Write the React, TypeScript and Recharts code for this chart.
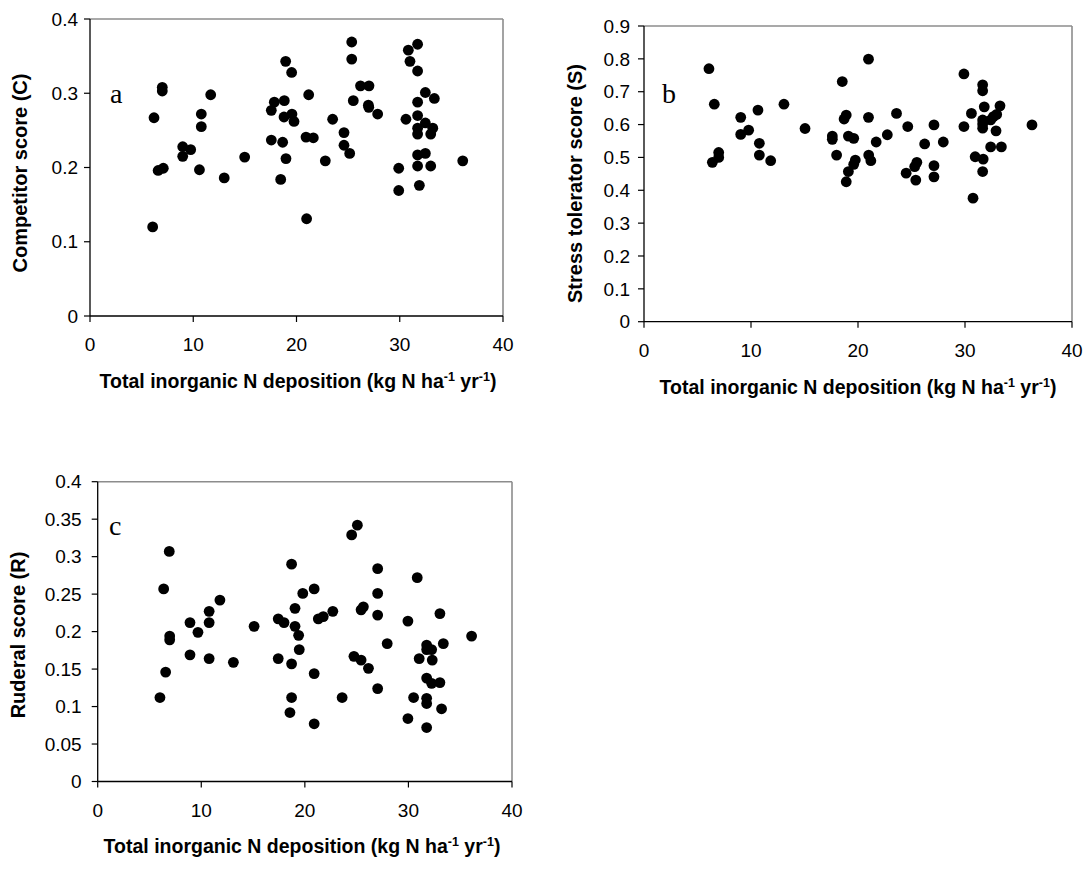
import React from 'react';
import { ScatterChart, Scatter, XAxis, YAxis, ReferenceLine, Customized } from 'recharts';

// ---------- data ----------
const xTicks = [0, 10, 20, 30, 40];
const competitorTicks = [0, 0.1, 0.2, 0.3, 0.4];
const stressTicks = [0, 0.1, 0.2, 0.3, 0.4, 0.5, 0.6, 0.7, 0.8, 0.9];
const ruderalTicks = [0, 0.05, 0.1, 0.15, 0.2, 0.25, 0.3, 0.35, 0.4];

const competitorPoints = [
  { x: 6.2, y: 0.267 }, { x: 6.07, y: 0.12 }, { x: 7.0, y: 0.308 }, { x: 7.0, y: 0.303 },
  { x: 6.6, y: 0.196 }, { x: 7.1, y: 0.199 }, { x: 8.98, y: 0.228 }, { x: 8.98, y: 0.215 },
  { x: 9.75, y: 0.224 }, { x: 10.78, y: 0.272 }, { x: 10.78, y: 0.255 }, { x: 10.6, y: 0.197 },
  { x: 11.69, y: 0.298 }, { x: 13.0, y: 0.186 }, { x: 14.98, y: 0.214 }, { x: 17.56, y: 0.277 },
  { x: 17.85, y: 0.288 }, { x: 17.56, y: 0.237 }, { x: 18.66, y: 0.234 }, { x: 18.98, y: 0.212 },
  { x: 18.47, y: 0.184 }, { x: 18.95, y: 0.343 }, { x: 19.53, y: 0.328 }, { x: 18.82, y: 0.29 },
  { x: 18.79, y: 0.268 }, { x: 19.56, y: 0.272 }, { x: 19.76, y: 0.262 }, { x: 21.18, y: 0.298 },
  { x: 20.98, y: 0.131 }, { x: 20.92, y: 0.241 }, { x: 21.63, y: 0.24 }, { x: 23.5, y: 0.265 },
  { x: 22.79, y: 0.209 }, { x: 24.6, y: 0.247 }, { x: 24.6, y: 0.23 }, { x: 25.15, y: 0.219 },
  { x: 25.35, y: 0.369 }, { x: 25.35, y: 0.346 }, { x: 25.5, y: 0.29 }, { x: 26.2, y: 0.31 },
  { x: 27.02, y: 0.31 }, { x: 26.96, y: 0.284 }, { x: 27.0, y: 0.281 }, { x: 27.86, y: 0.272 },
  { x: 29.9, y: 0.199 }, { x: 29.9, y: 0.169 }, { x: 30.6, y: 0.265 }, { x: 30.83, y: 0.358 },
  { x: 30.99, y: 0.343 }, { x: 31.73, y: 0.366 }, { x: 31.73, y: 0.33 }, { x: 31.73, y: 0.288 },
  { x: 31.73, y: 0.27 }, { x: 31.73, y: 0.253 }, { x: 31.73, y: 0.245 }, { x: 31.73, y: 0.217 },
  { x: 31.73, y: 0.202 }, { x: 31.9, y: 0.176 }, { x: 32.48, y: 0.301 }, { x: 32.48, y: 0.26 },
  { x: 32.48, y: 0.219 }, { x: 33.0, y: 0.245 }, { x: 33.2, y: 0.253 }, { x: 33.0, y: 0.202 },
  { x: 33.35, y: 0.293 }, { x: 36.1, y: 0.209 },
];

const stressPoints = [
  { x: 6.07, y: 0.77 }, { x: 6.57, y: 0.662 }, { x: 6.39, y: 0.485 }, { x: 6.98, y: 0.5 },
  { x: 6.98, y: 0.515 }, { x: 9.04, y: 0.622 }, { x: 9.04, y: 0.57 }, { x: 9.78, y: 0.583 },
  { x: 10.65, y: 0.644 }, { x: 10.78, y: 0.543 }, { x: 10.78, y: 0.507 }, { x: 11.84, y: 0.49 },
  { x: 13.08, y: 0.662 }, { x: 15.05, y: 0.588 }, { x: 17.6, y: 0.565 }, { x: 17.6, y: 0.555 },
  { x: 18.0, y: 0.507 }, { x: 18.53, y: 0.731 }, { x: 18.9, y: 0.629 }, { x: 18.7, y: 0.617 },
  { x: 19.1, y: 0.565 }, { x: 19.6, y: 0.558 }, { x: 19.75, y: 0.492 }, { x: 19.6, y: 0.479 },
  { x: 19.1, y: 0.457 }, { x: 18.9, y: 0.426 }, { x: 20.98, y: 0.799 }, { x: 20.98, y: 0.622 },
  { x: 21.0, y: 0.507 }, { x: 21.2, y: 0.49 }, { x: 21.7, y: 0.547 }, { x: 22.74, y: 0.569 },
  { x: 23.6, y: 0.634 }, { x: 24.65, y: 0.594 }, { x: 24.5, y: 0.452 }, { x: 25.5, y: 0.485 },
  { x: 25.3, y: 0.472 }, { x: 25.4, y: 0.431 }, { x: 26.23, y: 0.541 }, { x: 27.1, y: 0.599 },
  { x: 27.1, y: 0.475 }, { x: 27.1, y: 0.441 }, { x: 27.97, y: 0.547 }, { x: 29.9, y: 0.754 },
  { x: 29.9, y: 0.594 }, { x: 30.6, y: 0.634 }, { x: 30.75, y: 0.376 }, { x: 30.95, y: 0.502 },
  { x: 31.65, y: 0.721 }, { x: 31.65, y: 0.703 }, { x: 31.8, y: 0.654 }, { x: 31.65, y: 0.614 },
  { x: 31.65, y: 0.602 }, { x: 31.65, y: 0.589 }, { x: 31.7, y: 0.495 }, { x: 31.65, y: 0.457 },
  { x: 32.4, y: 0.614 }, { x: 32.65, y: 0.624 }, { x: 32.96, y: 0.631 }, { x: 33.27, y: 0.657 },
  { x: 32.4, y: 0.532 }, { x: 32.9, y: 0.581 }, { x: 33.4, y: 0.532 }, { x: 36.26, y: 0.599 },
];

const ruderalPoints = [
  { x: 6.01, y: 0.112 }, { x: 6.37, y: 0.257 }, { x: 6.56, y: 0.146 }, { x: 6.91, y: 0.307 },
  { x: 6.95, y: 0.194 }, { x: 6.95, y: 0.189 }, { x: 8.91, y: 0.212 }, { x: 8.91, y: 0.169 },
  { x: 9.68, y: 0.199 }, { x: 10.76, y: 0.227 }, { x: 10.76, y: 0.212 }, { x: 10.76, y: 0.164 },
  { x: 11.8, y: 0.242 }, { x: 13.1, y: 0.159 }, { x: 15.1, y: 0.207 }, { x: 17.43, y: 0.217 },
  { x: 17.99, y: 0.212 }, { x: 17.43, y: 0.164 }, { x: 18.72, y: 0.29 }, { x: 19.05, y: 0.231 },
  { x: 19.05, y: 0.207 }, { x: 19.4, y: 0.195 }, { x: 19.46, y: 0.176 }, { x: 18.72, y: 0.157 },
  { x: 18.72, y: 0.112 }, { x: 18.56, y: 0.092 }, { x: 19.8, y: 0.251 }, { x: 20.9, y: 0.257 },
  { x: 20.9, y: 0.144 }, { x: 20.9, y: 0.077 }, { x: 21.3, y: 0.217 }, { x: 21.78, y: 0.22 },
  { x: 22.7, y: 0.227 }, { x: 23.6, y: 0.112 }, { x: 24.52, y: 0.329 }, { x: 25.07, y: 0.342 },
  { x: 24.74, y: 0.167 }, { x: 25.43, y: 0.162 }, { x: 26.14, y: 0.151 }, { x: 25.43, y: 0.229 },
  { x: 25.65, y: 0.233 }, { x: 27.03, y: 0.284 }, { x: 27.03, y: 0.251 }, { x: 27.03, y: 0.222 },
  { x: 27.03, y: 0.124 }, { x: 27.95, y: 0.184 }, { x: 29.95, y: 0.214 }, { x: 30.5, y: 0.112 },
  { x: 29.95, y: 0.084 }, { x: 30.85, y: 0.272 }, { x: 31.04, y: 0.164 }, { x: 31.76, y: 0.182 },
  { x: 31.76, y: 0.176 }, { x: 32.24, y: 0.176 }, { x: 32.3, y: 0.162 }, { x: 31.76, y: 0.138 },
  { x: 32.24, y: 0.131 }, { x: 33.04, y: 0.132 }, { x: 31.76, y: 0.111 }, { x: 31.76, y: 0.104 },
  { x: 31.76, y: 0.072 }, { x: 33.04, y: 0.224 }, { x: 33.37, y: 0.184 }, { x: 33.2, y: 0.097 },
  { x: 36.1, y: 0.194 },
];

// ---------- styling ----------
const SANS = "'Liberation Sans', Arial, sans-serif";
const SERIF = "'Liberation Serif', 'Times New Roman', serif";
const TICK_FONT = 19;
const TITLE_FONT = 19.5;
const BORDER = '#8c8c8c';

const Dot = (p: any) => <circle cx={p.cx} cy={p.cy} r={5.4} fill="#000" />;

const XTitle = ({ cx, by }: { cx: number; by: number }) => (
  <text x={cx} y={by} textAnchor="middle" fontFamily={SANS} fontWeight="bold" fontSize={TITLE_FONT} fill="#000">
    Total inorganic N deposition (kg N ha
    <tspan dy={-7} fontSize={12.5}>-1</tspan>
    <tspan dy={7}> yr</tspan>
    <tspan dy={-7} fontSize={12.5}>-1</tspan>
    <tspan dy={7}>)</tspan>
  </text>
);

type PanelProps = {
  left: number; top: number; width: number; height: number;
  margin: { top: number; right: number; bottom: number; left: number };
  yAxisWidth: number; xAxisHeight: number; yTickMargin: number;
  data: { x: number; y: number }[];
  yMax: number; yTicks: number[];
  yTitle: string; yTitlePos: [number, number];
  xTitlePos: [number, number];
  letter: string; letterPos: [number, number];
};

function Panel(props: PanelProps) {
  const { left, top, width, height, margin, yAxisWidth, xAxisHeight, yTickMargin, data, yMax, yTicks, yTitle, yTitlePos, xTitlePos, letter, letterPos } = props;
  return (
    <div style={{ position: 'absolute', left, top, width, height }}>
      <ScatterChart width={width} height={height} margin={margin}>
        <XAxis
          type="number" dataKey="x" domain={[0, 40]} ticks={xTicks} interval={0}
          height={xAxisHeight} tickSize={6} tickMargin={16}
          axisLine={{ stroke: '#000', strokeWidth: 1.3 }} tickLine={{ stroke: '#000', strokeWidth: 1.2 }}
          tick={{ fill: '#000', fontSize: TICK_FONT, fontFamily: SANS }}
        />
        <YAxis
          type="number" dataKey="y" domain={[0, yMax]} ticks={yTicks} interval={0}
          width={yAxisWidth} tickSize={6} tickMargin={yTickMargin}
          axisLine={{ stroke: '#000', strokeWidth: 1.3 }} tickLine={{ stroke: '#000', strokeWidth: 1.2 }}
          tick={{ fill: '#000', fontSize: TICK_FONT, fontFamily: SANS }}
        />
        <ReferenceLine y={yMax} stroke={BORDER} strokeWidth={1.6} />
        <ReferenceLine x={40} stroke={BORDER} strokeWidth={1.6} />
        <Scatter data={data} shape={Dot} isAnimationActive={false} />
        <Customized
          component={() => (
            <g>
              <text
                x={yTitlePos[0]} y={yTitlePos[1]} textAnchor="middle" dominantBaseline="central"
                transform={`rotate(-90, ${yTitlePos[0]}, ${yTitlePos[1]})`}
                fontFamily={SANS} fontWeight="bold" fontSize={TITLE_FONT + 0.5} fill="#000"
              >
                {yTitle}
              </text>
              <XTitle cx={xTitlePos[0]} by={xTitlePos[1]} />
              <text x={letterPos[0]} y={letterPos[1]} fontFamily={SERIF} fontSize={28} fill="#000">
                {letter}
              </text>
            </g>
          )}
        />
      </ScatterChart>
    </div>
  );
}

export default function App() {
  return (
    <div style={{ position: 'absolute', left: 0, top: 0, width: 1092, height: 869, background: '#fff', overflow: 'hidden' }}>
      <Panel
        left={0} top={0} width={540} height={400}
        margin={{ top: 19, right: 37, bottom: 0, left: 0 }}
        yAxisWidth={90} xAxisHeight={84} yTickMargin={6}
        data={competitorPoints} yMax={0.4} yTicks={competitorTicks}
        yTitle="Competitor score (C)" yTitlePos={[20, 173]}
        xTitlePos={[298, 388]}
        letter="a" letterPos={[110, 103]}
      />
      <Panel
        left={560} top={0} width={532} height={400}
        margin={{ top: 26, right: 20, bottom: 0, left: 0 }}
        yAxisWidth={84} xAxisHeight={78.3} yTickMargin={8}
        data={stressPoints} yMax={0.9} yTicks={stressTicks}
        yTitle="Stress tolerator score (S)" yTitlePos={[15, 183.5]}
        xTitlePos={[298, 394]}
        letter="b" letterPos={[102, 103]}
      />
      <Panel
        left={0} top={440} width={540} height={429}
        margin={{ top: 41.7, right: 28, bottom: 0, left: 0 }}
        yAxisWidth={97.7} xAxisHeight={87.5} yTickMargin={10}
        data={ruderalPoints} yMax={0.4} yTicks={ruderalTicks}
        yTitle="Ruderal score (R)" yTitlePos={[17.5, 195]}
        xTitlePos={[302, 413]}
        letter="c" letterPos={[109, 95]}
      />
    </div>
  );
}
